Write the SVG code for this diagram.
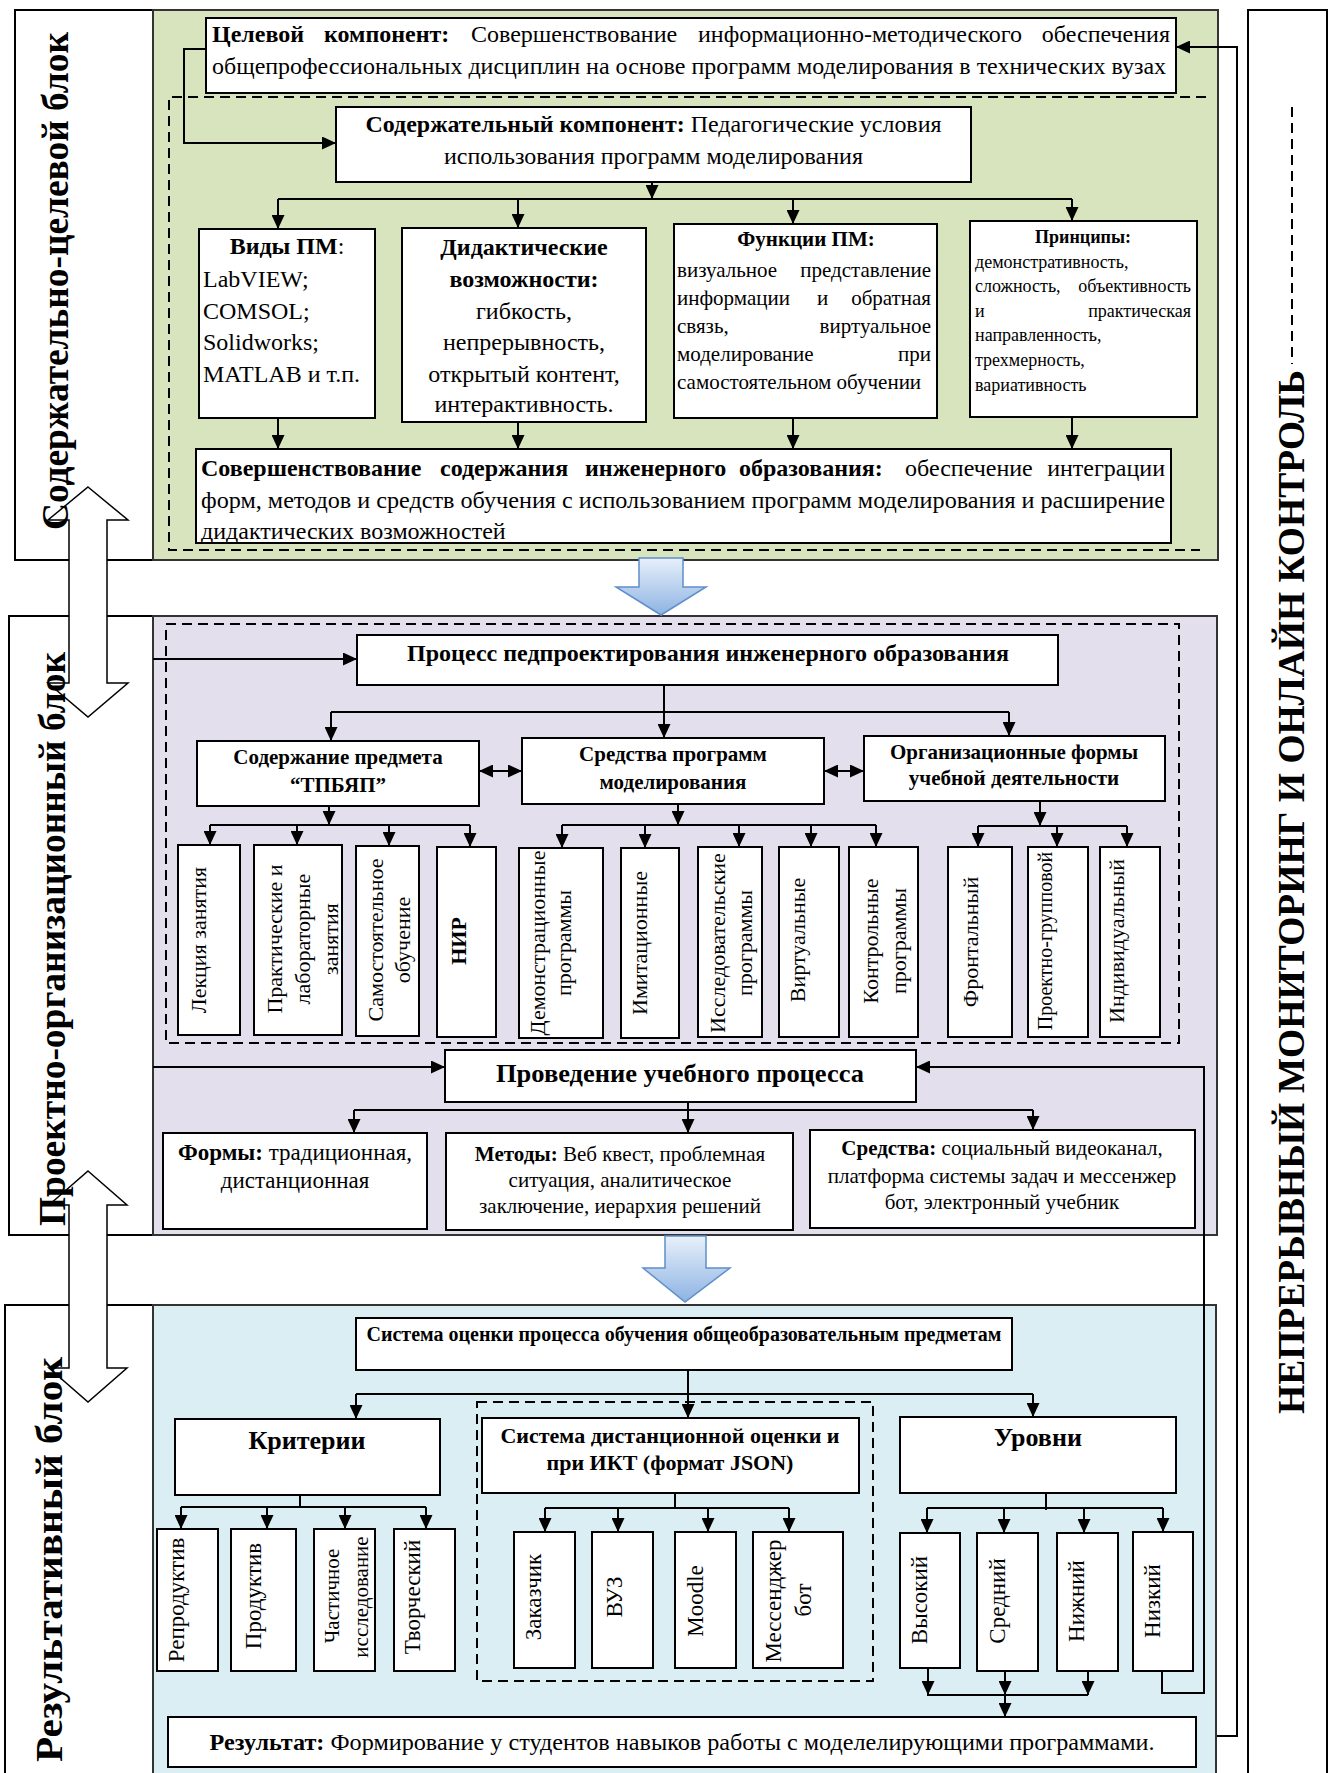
<svg xmlns="http://www.w3.org/2000/svg" width="1329" height="1773" viewBox="0 0 1329 1773">
<style>
.t{font-family:"Liberation Serif","Times New Roman",serif;fill:#000}
.b{font-weight:bold}
.box{fill:#fff;stroke:#000;stroke-width:2}
.frame{fill:#fff;stroke:#000;stroke-width:2}
.con{fill:none;stroke:#000;stroke-width:2}
.arr{fill:none;stroke:#000;stroke-width:2;marker-end:url(#ah)}
.darr{fill:none;stroke:#000;stroke-width:2;marker-end:url(#ah);marker-start:url(#ah)}
.dash{fill:none;stroke:#000;stroke-width:2;stroke-dasharray:10 6}
.panel{stroke:#333;stroke-width:2}
.barrow{fill:url(#bg);stroke:#5f8fcc;stroke-width:1.5}
.warrow{fill:#fff;stroke:#000;stroke-width:1.5}
.f24{font-size:24px}.f23{font-size:23px}.f22{font-size:22px}.f21{font-size:21px}.f20{font-size:20px}.f18{font-size:18px}.f26{font-size:26px}.f38{font-size:38px}
</style>
<defs>
<marker id="ah" markerUnits="userSpaceOnUse" markerWidth="14" markerHeight="13" refX="14" refY="6.5" orient="auto-start-reverse"><path d="M0,0 L14,6.5 L0,13 z" fill="#000"/></marker>
<linearGradient id="bg" x1="0" y1="0" x2="0" y2="1"><stop offset="0" stop-color="#e8f0fb"/><stop offset="1" stop-color="#8db3e2"/></linearGradient>
</defs>
<rect x="0" y="0" width="1329" height="1773" fill="#fff"/>

<g id="frames">
<rect class="frame" x="15" y="10" width="138" height="550"/>
<rect class="frame" x="9" y="616" width="144" height="619"/>
<rect class="frame" x="5" y="1305" width="148" height="470"/>
<rect class="frame" x="1248" y="10" width="79" height="1765"/>
<rect class="panel" x="153" y="10" width="1065" height="550" fill="#d7e4bd"/>
<rect class="panel" x="153" y="616" width="1064" height="619" fill="#e4dfec"/>
<rect class="panel" x="153" y="1305" width="1063" height="470" fill="#daeef3"/>
<path class="dash" d="M1206,97 H169 V550 H1200"/>
<rect class="dash" x="166" y="624" width="1013" height="419"/>
<rect class="dash" x="477" y="1402" width="396" height="279"/>
</g>

<g id="block-arrows">
<polygon class="warrow" points="88,487 128,520 107,520 107,683 128,683 88,717 48,683 69,683 69,520 48,520"/>
<polygon class="warrow" points="88,1171 127,1205 107,1205 107,1368 127,1368 88,1402 49,1368 69,1368 69,1205 49,1205"/>
<polygon class="barrow" points="639,558 683,558 683,587 706,587 661,615 616,587 639,587"/>
<polygon class="barrow" points="665,1236 706,1236 706,1268 730,1268 685,1302 643,1268 665,1268"/>
</g>

<g id="block-labels">
<text class="t b f38" transform="translate(68,530) rotate(-90)" textLength="498" lengthAdjust="spacingAndGlyphs">Содержательно-целевой блок</text>
<text class="t b f38" transform="translate(65,1226) rotate(-90)" textLength="574" lengthAdjust="spacingAndGlyphs">Проектно-организационный блок</text>
<text class="t b f38" transform="translate(62,1762) rotate(-90)" textLength="405" lengthAdjust="spacingAndGlyphs">Результативный блок</text>
<text class="t b f38" transform="translate(1304,1414) rotate(-90)" textLength="1044" lengthAdjust="spacingAndGlyphs">НЕПРЕРЫВНЫЙ МОНИТОРИНГ И ОНЛАЙН КОНТРОЛЬ</text>
<line class="dash" x1="1292" y1="107" x2="1292" y2="364" stroke-dasharray="10 7"/>
</g>

<g id="connectors">
<path class="arr" d="M206,49 H184 V143 H336"/>
<path class="arr" d="M652,182 V199"/>
<path class="con" d="M278,199 H1072"/>
<path class="arr" d="M278,199 V229"/>
<path class="arr" d="M518,199 V228"/>
<path class="arr" d="M793,199 V224"/>
<path class="arr" d="M1072,199 V221"/>
<path class="arr" d="M278,418 V449"/>
<path class="arr" d="M518,422 V449"/>
<path class="arr" d="M793,418 V449"/>
<path class="arr" d="M1072,417 V449"/>
<path class="arr" d="M1217,1736 H1237 V47 H1176"/>

<path class="arr" d="M153,659 H357"/>
<path class="con" d="M664,685 V712 M331,712 H1009"/>
<path class="arr" d="M331,712 V741"/>
<path class="arr" d="M664,712 V738"/>
<path class="arr" d="M1009,712 V736"/>
<path class="darr" d="M479,771 H522"/>
<path class="darr" d="M824,771 H864"/>
<path class="arr" d="M329,806 V825"/>
<path class="con" d="M210,825 H470"/>
<path class="arr" d="M210,825 V845"/>
<path class="arr" d="M297,825 V845"/>
<path class="arr" d="M389,825 V846"/>
<path class="arr" d="M470,825 V847"/>
<path class="arr" d="M678,804 V825"/>
<path class="con" d="M562,825 H876"/>
<path class="arr" d="M562,825 V848"/>
<path class="arr" d="M645,825 V848"/>
<path class="arr" d="M739,825 V847"/>
<path class="arr" d="M811,825 V847"/>
<path class="arr" d="M876,825 V847"/>
<path class="arr" d="M1040,801 V826"/>
<path class="con" d="M978,826 H1127"/>
<path class="arr" d="M978,826 V847"/>
<path class="arr" d="M1057,826 V847"/>
<path class="arr" d="M1127,826 V847"/>
<path class="arr" d="M153,1067 H445"/>
<path class="arr" d="M1162,1671 V1693 H1204 V1067 H916"/>
<path class="con" d="M688,1102 V1110 M354,1110 H1033"/>
<path class="arr" d="M354,1110 V1133"/>
<path class="arr" d="M688,1110 V1133"/>
<path class="arr" d="M1033,1110 V1130"/>

<path class="con" d="M688,1370 V1394 M356,1394 H1033"/>
<path class="arr" d="M356,1394 V1419"/>
<path class="arr" d="M688,1394 V1418"/>
<path class="arr" d="M1033,1394 V1417"/>
<path class="con" d="M300,1487 V1507 M181,1507 H426"/>
<path class="arr" d="M181,1507 V1529"/>
<path class="arr" d="M267,1507 V1529"/>
<path class="arr" d="M345,1507 V1529"/>
<path class="arr" d="M426,1507 V1529"/>
<path class="con" d="M675,1487 V1508 M545,1508 H789"/>
<path class="arr" d="M545,1508 V1532"/>
<path class="arr" d="M618,1508 V1532"/>
<path class="arr" d="M708,1508 V1532"/>
<path class="arr" d="M789,1508 V1532"/>
<path class="con" d="M1046,1487 V1510 M927,1508 H1163"/>
<path class="arr" d="M927,1508 V1533"/>
<path class="arr" d="M1004,1508 V1533"/>
<path class="arr" d="M1084,1508 V1533"/>
<path class="arr" d="M1163,1508 V1532"/>
<path class="arr" d="M928,1668 V1695"/>
<path class="arr" d="M1005,1671 V1695"/>
<path class="arr" d="M1088,1671 V1695"/>
<path class="con" d="M927,1695 H1088"/>
<path class="arr" d="M1005,1695 V1717"/>
</g>

<g id="n-target">
<rect class="box" x="206" y="18" width="970" height="75"/>
<text class="t f24" y="42"><tspan class="b" x="212">Целевой</tspan><tspan class="b" x="324">компонент:</tspan><tspan x="471">Совершенствование</tspan><tspan x="698">информационно-методического</tspan></text>
<text class="t f24" x="1170" y="42" text-anchor="end">обеспечения</text>
<text class="t f24" x="212" y="74" textLength="954" lengthAdjust="spacingAndGlyphs">общепрофессиональных дисциплин на основе программ моделирования в технических вузах</text>
</g>

<g id="n-content">
<rect class="box" x="336" y="107" width="635" height="75"/>
<text class="t f24" x="653.5" y="132" text-anchor="middle" textLength="576" lengthAdjust="spacingAndGlyphs"><tspan class="b">Содержательный компонент:</tspan> Педагогические условия</text>
<text class="t f24" x="653.5" y="164" text-anchor="middle" textLength="419" lengthAdjust="spacingAndGlyphs">использования программ моделирования</text>
</g>

<g id="n-types">
<rect class="box" x="199" y="229" width="176" height="189"/>
<text class="t f24" x="287" y="254" text-anchor="middle"><tspan class="b">Виды ПМ</tspan>:</text>
<text class="t f24" x="203" y="287">LabVIEW;</text>
<text class="t f24" x="203" y="319">COMSOL;</text>
<text class="t f24" x="203" y="350">Solidworks;</text>
<text class="t f24" x="203" y="382">MATLAB и т.п.</text>
</g>

<g id="n-didactic">
<rect class="box" x="402" y="228" width="244" height="194"/>
<text class="t f24 b" x="524" y="255" text-anchor="middle">Дидактические</text>
<text class="t f24 b" x="524" y="287" text-anchor="middle">возможности:</text>
<text class="t f24" x="524" y="319" text-anchor="middle">гибкость,</text>
<text class="t f24" x="524" y="350" text-anchor="middle">непрерывность,</text>
<text class="t f24" x="524" y="382" text-anchor="middle">открытый контент,</text>
<text class="t f24" x="524" y="412" text-anchor="middle">интерактивность.</text>
</g>

<g id="n-functions">
<rect class="box" x="674" y="224" width="263" height="194"/>
<text class="t f21 b" x="806" y="246" text-anchor="middle">Функции ПМ:</text>
<text class="t f21" x="677" y="277">визуальное</text><text class="t f21" x="931" y="277" text-anchor="end">представление</text>
<text class="t f21" x="677" y="305">информации</text><text class="t f21" x="817" y="305">и</text><text class="t f21" x="931" y="305" text-anchor="end">обратная</text>
<text class="t f21" x="677" y="333">связь,</text><text class="t f21" x="931" y="333" text-anchor="end">виртуальное</text>
<text class="t f21" x="677" y="361">моделирование</text><text class="t f21" x="931" y="361" text-anchor="end">при</text>
<text class="t f21" x="677" y="389">самостоятельном обучении</text>
</g>

<g id="n-principles">
<rect class="box" x="970" y="221" width="227" height="196"/>
<text class="t f18 b" x="1083" y="243" text-anchor="middle">Принципы:</text>
<text class="t f18" x="975" y="268">демонстративность,</text>
<text class="t f18" x="975" y="292">сложность,</text><text class="t f18" x="1191" y="292" text-anchor="end">объективность</text>
<text class="t f18" x="975" y="317">и</text><text class="t f18" x="1191" y="317" text-anchor="end">практическая</text>
<text class="t f18" x="975" y="341">направленность,</text>
<text class="t f18" x="975" y="366">трехмерность,</text>
<text class="t f18" x="975" y="391">вариативность</text>
</g>

<g id="n-improve">
<rect class="box" x="196" y="449" width="975" height="94"/>
<text class="t f24" y="476"><tspan class="b" x="201">Совершенствование</tspan><tspan class="b" x="440">содержания</tspan><tspan class="b" x="585">инженерного</tspan><tspan class="b" x="739">образования:</tspan><tspan x="905">обеспечение</tspan></text>
<text class="t f24" x="1165" y="476" text-anchor="end">интеграции</text>
<text class="t f24" x="201" y="508" textLength="964" lengthAdjust="spacingAndGlyphs">форм, методов и средств обучения с использованием программ моделирования и расширение</text>
<text class="t f24" x="201" y="539">дидактических возможностей</text>
</g>

<g id="n-process">
<rect class="box" x="357" y="635" width="701" height="50"/>
<text class="t f24 b" x="708" y="661" text-anchor="middle" textLength="602" lengthAdjust="spacingAndGlyphs">Процесс педпроектирования инженерного образования</text>
</g>

<g id="n-subject">
<rect class="box" x="197" y="741" width="282" height="65"/>
<text class="t f21 b" x="338" y="764" text-anchor="middle">Содержание предмета</text>
<text class="t f21 b" x="338" y="792" text-anchor="middle">“ТПБЯП”</text>
</g>
<g id="n-tools">
<rect class="box" x="522" y="738" width="302" height="66"/>
<text class="t f21 b" x="673" y="761" text-anchor="middle">Средства программ</text>
<text class="t f21 b" x="673" y="789" text-anchor="middle">моделирования</text>
</g>
<g id="n-orgforms">
<rect class="box" x="864" y="736" width="301" height="65"/>
<text class="t f21 b" x="1014" y="759" text-anchor="middle">Организационные формы</text>
<text class="t f21 b" x="1014" y="785" text-anchor="middle">учебной деятельности</text>
</g>

<g id="n-lecture"><rect class="box" x="178" y="845" width="62" height="190"/><text class="t f22" transform="translate(206,940) rotate(-90)" text-anchor="middle">Лекция занятия</text></g>
<g id="n-practice"><rect class="box" x="254" y="845" width="88" height="190"/>
<text class="t f22" transform="translate(282,939) rotate(-90)" text-anchor="middle">Практические и</text>
<text class="t f22" transform="translate(310,939) rotate(-90)" text-anchor="middle">лабораторные</text>
<text class="t f22" transform="translate(338,939) rotate(-90)" text-anchor="middle">занятия</text></g>
<g id="n-self"><rect class="box" x="356" y="846" width="63" height="190"/>
<text class="t f22" transform="translate(383,940) rotate(-90)" text-anchor="middle">Самостоятельное</text>
<text class="t f22" transform="translate(410,940) rotate(-90)" text-anchor="middle">обучение</text></g>
<g id="n-nir"><rect class="box" x="437" y="847" width="59" height="190"/>
<text class="t f22 b" transform="translate(466,941) rotate(-90)" text-anchor="middle">НИР</text></g>
<g id="n-demo"><rect class="box" x="519" y="848" width="84" height="190"/>
<text class="t f22" transform="translate(545,943) rotate(-90)" text-anchor="middle">Демонстрационные</text>
<text class="t f22" transform="translate(571,943) rotate(-90)" text-anchor="middle">программы</text></g>
<g id="n-imit"><rect class="box" x="621" y="848" width="58" height="190"/>
<text class="t f22" transform="translate(647,943) rotate(-90)" text-anchor="middle">Имитационные</text></g>
<g id="n-research"><rect class="box" x="698" y="847" width="64" height="190"/>
<text class="t f22" transform="translate(725,943) rotate(-90)" text-anchor="middle">Исследовательские</text>
<text class="t f22" transform="translate(752,943) rotate(-90)" text-anchor="middle">программы</text></g>
<g id="n-virtual"><rect class="box" x="779" y="847" width="60" height="190"/>
<text class="t f22" transform="translate(805,940) rotate(-90)" text-anchor="middle">Виртуальные</text></g>
<g id="n-control"><rect class="box" x="849" y="847" width="69" height="190"/>
<text class="t f22" transform="translate(878,941) rotate(-90)" text-anchor="middle">Контрольные</text>
<text class="t f22" transform="translate(906,941) rotate(-90)" text-anchor="middle">программы</text></g>
<g id="n-frontal"><rect class="box" x="948" y="847" width="64" height="190"/>
<text class="t f22" transform="translate(978,942) rotate(-90)" text-anchor="middle">Фронтальный</text></g>
<g id="n-group"><rect class="box" x="1028" y="847" width="60" height="190"/>
<text class="t f20" transform="translate(1052,941) rotate(-90)" text-anchor="middle">Проектно-групповой</text></g>
<g id="n-indiv"><rect class="box" x="1100" y="847" width="60" height="190"/>
<text class="t f22" transform="translate(1124,941) rotate(-90)" text-anchor="middle">Индивидуальный</text></g>

<g id="n-conduct">
<rect class="box" x="445" y="1050" width="471" height="52"/>
<text class="t f26 b" x="680" y="1082" text-anchor="middle" textLength="368" lengthAdjust="spacingAndGlyphs">Проведение учебного процесса</text>
</g>
<g id="n-forms">
<rect class="box" x="163" y="1133" width="264" height="96"/>
<text class="t f23" x="295" y="1160" text-anchor="middle"><tspan class="b">Формы:</tspan> традиционная,</text>
<text class="t f23" x="295" y="1188" text-anchor="middle">дистанционная</text>
</g>
<g id="n-methods">
<rect class="box" x="446" y="1133" width="347" height="97"/>
<text class="t f21" x="620" y="1161" text-anchor="middle"><tspan class="b">Методы:</tspan> Веб квест, проблемная</text>
<text class="t f21" x="620" y="1187" text-anchor="middle">ситуация, аналитическое</text>
<text class="t f21" x="620" y="1213" text-anchor="middle">заключение, иерархия решений</text>
</g>
<g id="n-means">
<rect class="box" x="810" y="1130" width="385" height="98"/>
<text class="t f21" x="1002" y="1155" text-anchor="middle"><tspan class="b">Средства:</tspan> социальный видеоканал,</text>
<text class="t f21" x="1002" y="1183" text-anchor="middle">платформа системы задач и мессенжер</text>
<text class="t f21" x="1002" y="1209" text-anchor="middle">бот, электронный учебник</text>
</g>

<g id="n-assess">
<rect class="box" x="356" y="1318" width="656" height="52"/>
<text class="t f20 b" x="684" y="1341" text-anchor="middle" textLength="635" lengthAdjust="spacingAndGlyphs">Система оценки процесса обучения общеобразовательным предметам</text>
</g>
<g id="n-criteria">
<rect class="box" x="175" y="1419" width="265" height="76"/>
<text class="t f26 b" x="307" y="1449" text-anchor="middle">Критерии</text>
</g>
<g id="n-distance">
<rect class="box" x="482" y="1418" width="377" height="75"/>
<text class="t f22 b" x="670" y="1443" text-anchor="middle">Система дистанционной оценки и</text>
<text class="t f22 b" x="670" y="1470" text-anchor="middle">при ИКТ (формат JSON)</text>
</g>
<g id="n-levels">
<rect class="box" x="900" y="1417" width="276" height="76"/>
<text class="t f26 b" x="1038" y="1446" text-anchor="middle">Уровни</text>
</g>

<g id="n-repro"><rect class="box" x="157" y="1529" width="61" height="142"/><text class="t f23" transform="translate(184,1600) rotate(-90)" text-anchor="middle">Репродуктив</text></g>
<g id="n-produ"><rect class="box" x="231" y="1529" width="65" height="142"/><text class="t f23" transform="translate(261,1596) rotate(-90)" text-anchor="middle">Продуктив</text></g>
<g id="n-partial"><rect class="box" x="314" y="1529" width="61" height="142"/>
<text class="t f21" transform="translate(339,1596) rotate(-90)" text-anchor="middle">Частичное</text>
<text class="t f21" transform="translate(368,1597) rotate(-90)" text-anchor="middle">исследование</text></g>
<g id="n-creative"><rect class="box" x="394" y="1529" width="61" height="142"/><text class="t f23" transform="translate(420,1597) rotate(-90)" text-anchor="middle">Творческий</text></g>

<g id="n-customer"><rect class="box" x="514" y="1532" width="61" height="136"/><text class="t f23" transform="translate(541,1597) rotate(-90)" text-anchor="middle">Заказчик</text></g>
<g id="n-vuz"><rect class="box" x="592" y="1532" width="61" height="136"/><text class="t f23" transform="translate(622,1597) rotate(-90)" text-anchor="middle">ВУЗ</text></g>
<g id="n-moodle"><rect class="box" x="675" y="1532" width="61" height="136"/><text class="t f23" transform="translate(703,1601) rotate(-90)" text-anchor="middle">Moodle</text></g>
<g id="n-bot"><rect class="box" x="753" y="1532" width="90" height="136"/>
<text class="t f23" transform="translate(781,1601) rotate(-90)" text-anchor="middle">Мессенджер</text>
<text class="t f23" transform="translate(811,1600) rotate(-90)" text-anchor="middle">бот</text></g>

<g id="n-high"><rect class="box" x="900" y="1533" width="60" height="135"/><text class="t f23" transform="translate(927,1600) rotate(-90)" text-anchor="middle">Высокий</text></g>
<g id="n-mid"><rect class="box" x="977" y="1533" width="61" height="138"/><text class="t f23" transform="translate(1005,1601) rotate(-90)" text-anchor="middle">Средний</text></g>
<g id="n-lower"><rect class="box" x="1057" y="1533" width="61" height="138"/><text class="t f23" transform="translate(1084,1601) rotate(-90)" text-anchor="middle">Нижний</text></g>
<g id="n-low"><rect class="box" x="1133" y="1532" width="60" height="139"/><text class="t f23" transform="translate(1160,1601) rotate(-90)" text-anchor="middle">Низкий</text></g>

<g id="n-result">
<rect class="box" x="168" y="1717" width="1028" height="50"/>
<text class="t f24" x="682" y="1750" text-anchor="middle" textLength="945" lengthAdjust="spacingAndGlyphs"><tspan class="b">Результат:</tspan> Формирование у студентов навыков работы с моделелирующими программами.</text>
</g>
</svg>
